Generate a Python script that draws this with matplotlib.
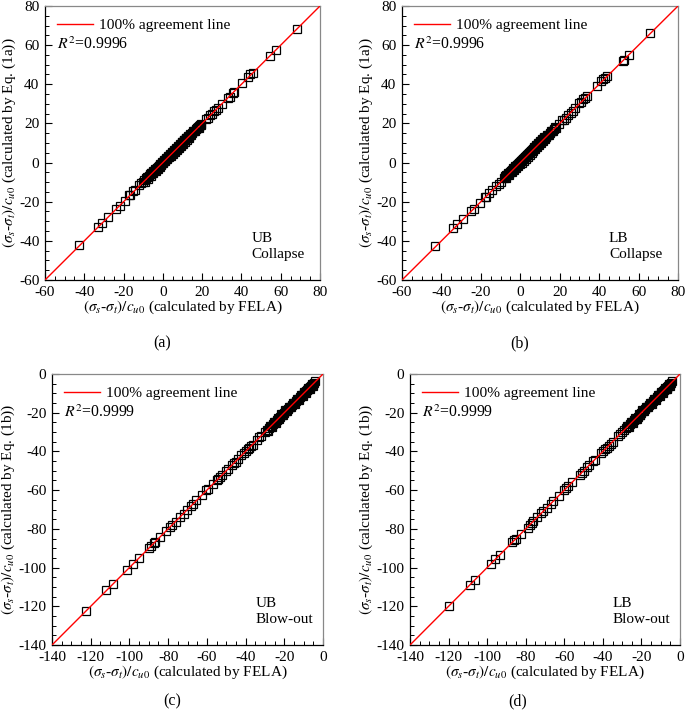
import numpy as np
import matplotlib
matplotlib.use("Agg")
import matplotlib.pyplot as plt
from matplotlib.ticker import MultipleLocator

plt.rcParams['font.family'] = ['Liberation Serif', 'DejaVu Serif']
plt.rcParams['mathtext.fontset'] = 'stix'
plt.rcParams['axes.unicode_minus'] = False

# (a) UB collapse: FELA vs Eq. (1a)
ub_col_fela = [-42.5, -33.0, -31.0, -28.0, -24.0, -22.0, -19.5, -17.0, -16.5, -15.0, -14.0,
               -12.0, -11.0, -10.0, -9.5, -8.0, -7.0, -6.5, -6.0, -5.5, -5.0, -4.5, -4.0,
               -3.5, -3.0, -2.5, -2.0, -1.5, -1.0, -0.5, 0.0, 0.5, 1.0, 1.5, 2.0, 2.5, 3.0,
               3.5, 4.0, 4.5, 5.0, 5.5, 6.0, 6.5, 7.0, 7.5, 8.0, 8.5, 9.0, 9.5, 10.0, 10.5,
               11.0, 11.5, 12.0, 12.5, 13.0, 13.5, 14.0, 15.0, 16.0, 17.0, 17.5, 18.0, 18.5,
               19.0, 19.5, 22.0, 23.0, 24.0, 25.0, 26.0, 27.0, 28.0, 30.0, 33.0, 34.0, 35.5,
               36.0, 40.5, 43.5, 44.5, 46.0, 54.5, 57.5, 68.5,
               -9.2, -8.6, -7.7, -7.3, -6.2, -5.8, -4.8, -4.2, -3.7, -3.2, -2.7, -2.2, -1.7,
               -1.2, -0.7, -0.2, 0.3, 0.7, 1.2, 1.7, 2.2, 2.7, 3.2, 3.7, 4.2, 4.7, 5.2, 5.7,
               6.2, 6.7, 7.2, 7.7, 8.2, 8.7, 9.2, 9.7, 10.2, 10.7, 11.2, 11.7, 12.2, 12.7,
               13.2, 13.7, 14.5, 15.5, 16.5, 17.2, 18.3, 19.2]
ub_col_eq = [-42.0, -33.0, -31.0, -28.0, -23.8, -22.0, -19.5, -16.5, -16.8, -14.5, -14.0,
             -11.5, -10.5, -9.8, -9.0, -7.5, -6.8, -6.0, -5.5, -5.3, -4.5, -4.2, -3.5,
             -3.2, -2.6, -2.2, -1.5, -1.3, -0.6, -0.3, 0.4, 0.8, 1.4, 1.8, 2.4, 2.8, 3.4,
             3.7, 4.4, 4.7, 5.4, 5.7, 6.3, 6.8, 7.3, 7.7, 8.3, 8.7, 9.3, 9.7, 10.3, 10.7,
             11.3, 11.6, 12.3, 12.6, 13.3, 13.6, 14.2, 15.2, 16.2, 17.0, 17.8, 18.2, 18.8,
             19.2, 19.0, 22.5, 23.0, 24.5, 25.0, 26.5, 27.0, 28.0, 30.0, 33.0, 33.5, 35.5,
             36.0, 40.5, 43.5, 45.0, 46.0, 54.5, 57.5, 68.5,
             -9.8, -8.0, -8.2, -6.7, -6.8, -5.1, -5.4, -3.6, -4.3, -2.6, -3.3, -1.6, -2.3,
             -0.6, -1.3, 0.4, -0.3, 1.4, 0.6, 2.4, 1.6, 3.4, 2.6, 4.4, 3.6, 5.4, 4.6, 6.3,
             5.6, 7.4, 6.6, 8.4, 7.6, 9.4, 8.6, 10.4, 9.6, 11.4, 10.6, 12.4, 11.6, 13.4,
             12.6, 14.4, 14.0, 16.1, 16.0, 17.9, 17.8, 19.8]

# (b) LB collapse: FELA vs Eq. (1a)
lb_col_fela = [-43.5, -34.0, -32.0, -29.0, -25.0, -23.5, -20.5, -18.0, -17.5, -16.0, -14.5,
               -12.5, -11.0, -10.0, -8.5, -7.5, -7.0, -6.5, -6.0, -5.5, -5.0, -4.5, -4.0,
               -3.5, -3.0, -2.5, -2.0, -1.5, -1.0, -0.5, 0.0, 0.5, 1.0, 1.5, 2.0, 2.5, 3.0,
               3.5, 4.0, 4.5, 5.0, 5.5, 6.0, 6.5, 7.0, 7.5, 8.0, 8.5, 9.0, 9.5, 10.0, 10.5,
               11.0, 11.5, 12.0, 12.5, 13.0, 14.0, 15.0, 16.0, 17.0, 18.0, 19.5, 21.0, 22.0,
               23.0, 24.0, 25.5, 26.5, 28.0, 30.0, 31.0, 32.0, 33.0, 34.0, 39.0, 41.0, 42.0,
               43.0, 44.0, 52.0, 52.5, 55.0, 66.0,
               -7.8, -7.2, -6.2, -5.8, -4.8, -4.2, -3.7, -3.2, -2.7, -2.2, -1.7, -1.2, -0.7,
               -0.2, 0.3, 0.7, 1.2, 1.7, 2.2, 2.7, 3.2, 3.7, 4.2, 4.7, 5.2, 5.7, 6.2, 6.7,
               7.2, 7.7, 8.2, 8.7, 9.2, 9.7, 10.2, 10.7, 11.2, 11.7, 12.2, 12.7, 13.5, 14.5,
               15.5, 16.5, 17.5]
lb_col_eq = [-42.5, -33.5, -31.5, -29.0, -24.5, -23.5, -20.5, -17.5, -17.5, -15.5, -14.0,
             -12.0, -11.0, -9.8, -8.0, -7.2, -6.6, -6.3, -5.6, -5.2, -4.6, -4.3, -3.6,
             -3.3, -2.6, -2.3, -1.6, -1.2, -0.6, -0.2, 0.4, 0.8, 1.4, 1.8, 2.4, 2.8, 3.4,
             3.8, 4.4, 4.8, 5.4, 5.8, 6.3, 6.8, 7.3, 7.8, 8.3, 8.8, 9.3, 9.8, 10.3, 10.8,
             11.3, 11.8, 12.3, 12.7, 13.3, 14.2, 15.0, 16.3, 17.0, 17.8, 19.5, 21.5, 22.0,
             23.0, 24.5, 25.5, 26.5, 28.0, 30.5, 31.0, 32.5, 33.0, 34.0, 39.0, 41.5, 42.5,
             43.0, 44.0, 52.0, 52.5, 55.0, 66.0,
             -7.0, -7.9, -5.5, -6.5, -4.1, -4.9, -3.0, -3.9, -2.0, -2.9, -1.0, -1.9, 0.0,
             -0.9, 1.0, 0.0, 1.9, 1.0, 2.9, 2.0, 3.9, 3.0, 4.9, 4.0, 5.9, 5.0, 6.9, 6.0,
             7.9, 7.0, 8.9, 8.0, 9.9, 9.0, 10.9, 10.0, 11.9, 11.0, 12.9, 12.0, 14.1, 13.9,
             16.1, 15.9, 18.0]

# (c) UB blow-out: FELA vs Eq. (1b)
ub_blow_fela = [-122.5, -112.0, -108.5, -101.0, -98.0, -95.0, -90.0, -89.0, -87.5, -87.0,
                -84.0, -81.0, -79.0, -78.0, -76.0, -74.0, -72.0, -70.5, -68.0, -67.0,
                -65.5, -62.5, -60.5, -59.5, -57.0, -55.0, -54.0, -53.0, -52.0, -50.0,
                -49.0, -47.0, -46.0, -45.0, -44.0, -42.5, -41.0, -40.0, -39.0, -38.0,
                -37.0, -36.0, -34.0, -33.0, -32.0, -30.0, -29.0, -28.0, -27.0, -26.0,
                -25.0, -24.0, -23.0, -22.0, -21.0, -20.0, -19.0, -18.0, -17.0, -16.0,
                -15.0, -14.0, -13.0, -12.0, -11.0, -10.0, -9.5, -9.0, -8.5, -8.0, -7.5,
                -7.0, -6.5, -6.0, -5.5, -5.0, -4.5,
                -28.5, -27.5, -26.5, -25.5, -24.5, -23.5, -22.5, -21.5, -20.5, -19.5,
                -18.5, -17.5, -16.5, -15.5, -14.5, -13.5, -12.5, -11.5, -10.5, -9.8, -8.8,
                -7.8, -6.8, -5.8, -5.2, -4.2]
ub_blow_eq = [-122.5, -111.5, -108.5, -101.0, -98.0, -95.0, -90.0, -89.0, -87.5, -87.0,
              -84.0, -81.0, -79.0, -78.0, -76.5, -74.0, -72.5, -70.0, -68.0, -67.0,
              -65.0, -62.5, -60.0, -59.5, -57.0, -55.0, -54.0, -53.0, -52.0, -50.0,
              -49.0, -47.0, -46.0, -45.5, -44.0, -42.0, -41.0, -40.0, -39.0, -38.0,
              -37.0, -36.5, -34.0, -32.5, -32.0, -30.0, -29.0, -28.0, -27.0, -26.0,
              -25.0, -24.0, -23.0, -22.0, -21.0, -20.0, -19.0, -18.0, -17.0, -16.0,
              -15.0, -14.0, -13.0, -12.0, -11.0, -10.0, -9.5, -9.0, -8.5, -8.0, -7.5,
              -7.0, -6.5, -6.0, -5.5, -5.0, -4.8,
              -29.3, -26.8, -27.3, -24.8, -25.3, -22.8, -23.3, -20.8, -21.3, -18.8,
              -19.3, -16.8, -17.3, -14.8, -15.3, -12.8, -13.3, -10.8, -11.3, -9.1, -9.6,
              -7.1, -7.6, -5.1, -6.0, -3.8]

# (d) LB blow-out: FELA vs Eq. (1b)
lb_blow_fela = [-120.0, -109.0, -106.5, -98.0, -96.0, -93.5, -87.0, -86.0, -85.0, -82.5,
                -79.0, -78.0, -77.0, -76.0, -74.0, -72.0, -71.0, -69.0, -67.0, -66.0,
                -63.0, -60.0, -59.0, -58.0, -56.0, -52.0, -51.0, -50.0, -48.0, -47.0,
                -45.0, -44.0, -41.0, -40.0, -39.0, -38.0, -37.0, -36.0, -35.0, -32.0,
                -31.0, -30.0, -29.0, -28.0, -27.0, -26.0, -25.0, -24.0, -23.0, -22.0,
                -21.0, -20.0, -19.0, -18.0, -17.0, -16.0, -15.0, -14.0, -13.0, -12.0,
                -11.0, -10.0, -9.5, -9.0, -8.5, -8.0, -7.5, -7.0, -6.5, -6.0, -5.5, -5.0,
                -4.5,
                -27.5, -26.5, -25.5, -24.5, -23.5, -22.5, -21.5, -20.5, -19.5, -18.5,
                -17.5, -16.5, -15.5, -14.5, -13.5, -12.5, -11.5, -10.5, -9.8, -8.8, -7.8,
                -6.8, -5.8, -5.2, -4.2]
lb_blow_eq = [-120.0, -109.0, -106.5, -98.0, -95.5, -93.5, -87.0, -86.0, -85.0, -82.5,
              -79.5, -78.0, -77.0, -76.0, -74.0, -72.0, -71.0, -69.0, -67.0, -65.5,
              -63.0, -60.0, -59.0, -58.0, -56.0, -52.0, -51.0, -50.0, -48.0, -47.0,
              -45.0, -44.5, -41.0, -40.0, -39.0, -38.0, -37.0, -36.0, -35.0, -32.0,
              -31.0, -30.0, -29.0, -28.0, -27.0, -26.0, -25.0, -24.0, -23.0, -22.0,
              -21.0, -20.0, -19.0, -18.0, -17.0, -16.0, -15.0, -14.0, -13.0, -12.0,
              -11.0, -10.0, -9.5, -9.0, -8.5, -8.0, -7.5, -7.0, -6.5, -6.0, -5.5, -5.0,
              -4.8,
              -26.8, -27.3, -24.8, -25.3, -22.8, -23.3, -20.8, -21.3, -18.8, -19.3,
              -16.8, -17.3, -14.8, -15.3, -12.8, -13.3, -10.8, -11.3, -9.1, -9.6, -7.1,
              -7.6, -5.1, -6.0, -3.8]

# per panel: data, axis range, equation no., R^2, note, tag, axes box (px), tag position (px)
panels = [
    (ub_col_fela, ub_col_eq, (-60, 80), '1a', '0.9996', 'UB\nCollapse', '(a)',
     [45, 6, 320, 280], (162, 343)),
    (lb_col_fela, lb_col_eq, (-60, 80), '1a', '0.9996', 'LB\nCollapse', '(b)',
     [402, 6, 678, 280], (520, 343)),
    (ub_blow_fela, ub_blow_eq, (-140, 0), '1b', '0.9999', 'UB\nBlow-out', '(c)',
     [52, 374, 323, 645], (172, 701)),
    (lb_blow_fela, lb_blow_eq, (-140, 0), '1b', '0.9999', 'LB\nBlow-out', '(d)',
     [410, 374, 680, 645], (518, 701)),
]

W, H = 685, 718
fig = plt.figure(figsize=(W / 100, H / 100), dpi=100)

for xs, ys, lim, eq, r2, note, tag, box, tag_pos in panels:
    x0, y0, x1, y1 = box
    ax = fig.add_axes([x0 / W, 1 - y1 / H, (x1 - x0) / W, (y1 - y0) / H])

    ax.plot(lim, lim, color='#ff0000', lw=1.0, label='100% agreement line', zorder=4)
    ax.plot(xs, ys, linestyle='none', marker='s', markersize=5.5, markerfacecolor='none',
            markeredgecolor='black', markeredgewidth=0.9, zorder=3)

    ax.set_xlim(lim)
    ax.set_ylim(lim)
    ax.xaxis.set_major_locator(MultipleLocator(20))
    ax.yaxis.set_major_locator(MultipleLocator(20))
    ax.xaxis.set_minor_locator(MultipleLocator(5))
    ax.yaxis.set_minor_locator(MultipleLocator(5))
    ax.tick_params(which='both', direction='in', top=False, right=False, labelsize=11,
                   pad=4)
    ax.tick_params(which='major', length=5, width=0.8)
    ax.tick_params(which='minor', length=3, width=0.7)
    for s in ['top', 'right']:
        ax.spines[s].set_color('#888888')
    for s in ax.spines.values():
        s.set_linewidth(0.9)

    ax.set_xlabel(r'$(\sigma_s$-$\sigma_t)/c_{u0}$ (calculated by FELA)', fontsize=11,
                  labelpad=0)
    ax.set_ylabel(r'$(\sigma_s$-$\sigma_t)/c_{u0}$ (calculated by Eq. (' + eq + '))',
                  fontsize=11, labelpad=1)

    ax.legend(loc='upper left', frameon=False, fontsize=11.1, handlelength=2.3,
              borderaxespad=0.4, handletextpad=0.4)
    ax.text(0.045, 0.858, r'$R^2$=' + r2, transform=ax.transAxes, fontsize=11.3,
            ha='left', va='center')
    ax.text(0.75, 0.07, note, transform=ax.transAxes, fontsize=11, ha='left',
            va='bottom', linespacing=1.3)

    fig.text(tag_pos[0] / W, 1 - tag_pos[1] / H, tag, fontsize=11.5, ha='center',
             va='center')

fig.savefig('out.png', dpi=100)
